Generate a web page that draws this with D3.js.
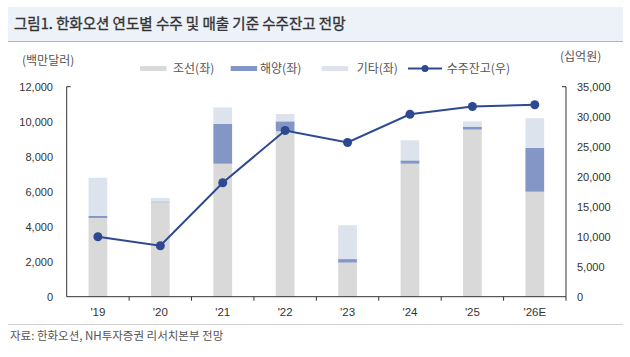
<!DOCTYPE html>
<html><head><meta charset="utf-8">
<script src="https://cdn.jsdelivr.net/npm/d3@7"></script>
<style>
html,body{margin:0;padding:0;background:#fff;}
svg{display:block;}
text{font-family:"Liberation Sans",Arial,"Noto Sans CJK KR",sans-serif;}
.kr{font-family:"Noto Sans CJK KR","Liberation Sans",sans-serif;}
</style></head>
<body><svg id="c" width="630" height="357"></svg>
<script>
const categories = ["'19","'20","'21","'22","'23","'24","'25","'26E"];
const shipbuilding = [4500,5400,7600,9450,1950,7600,9550,6000];
const offshore = [120,40,2270,570,200,190,170,2500];
const others = [2180,200,940,420,1930,1150,300,1700];
const backlog = [10000,8500,19000,27700,25700,30400,31700,32000];
const leftTicks = [0,2000,4000,6000,8000,10000,12000];
const rightTicks = [0,5000,10000,15000,20000,25000,30000,35000];
const seriesNames = ["조선(좌)","해양(좌)","기타(좌)","수주잔고(우)"];
const colors = ["#d9d9d9","#8496c5","#dde3ec","#2d4a90"];

const svg = d3.select("#c");
const L = 66.7, R = 566, T = 86.7, B = 296.7;

// title band
svg.append("rect").attr("x",8).attr("y",7).attr("width",615).attr("height",34).attr("fill","#edf1f8");
svg.append("line").attr("x1",8).attr("x2",623).attr("y1",41.5).attr("y2",41.5).attr("stroke","#b5b5b5").attr("stroke-width",1);
svg.append("text").attr("class","kr").attr("x",14).attr("y",28.5).attr("font-size",14.5).attr("font-weight",400)
  .attr("fill","#333").attr("stroke","#333").attr("stroke-width",0.35).text("그림1. 한화오션 연도별 수주 및 매출 기준 수주잔고 전망");

// unit labels
svg.append("text").attr("class","kr").attr("x",22).attr("y",64.5).attr("font-size",12).attr("fill","#555").text("(백만달러)");
svg.append("text").attr("class","kr").attr("x",560).attr("y",61).attr("font-size",12).attr("fill","#555").text("(십억원)");

const x = d3.scaleBand().domain(categories).range([L,R]).paddingInner(0.7).paddingOuter(0.35);
const yL = d3.scaleLinear().domain([0,12000]).range([B,T]);
const yR = d3.scaleLinear().domain([0,35000]).range([B,T]);

const data = categories.map((c,i)=>({cat:c, s:shipbuilding[i], o:offshore[i], e:others[i]}));
const stack = d3.stack().keys(["s","o","e"])(data);
const g = svg.append("g");
stack.forEach((layer,li)=>{
  g.selectAll(null).data(layer).enter().append("rect")
    .attr("x",d=>x(d.data.cat)).attr("width",x.bandwidth())
    .attr("y",d=>yL(d[1])).attr("height",d=>yL(d[0])-yL(d[1]))
    .attr("fill",colors[li]);
});

// axes
const ax = svg.append("g").attr("stroke","#333").attr("stroke-width",1).attr("fill","none");
ax.append("line").attr("x1",L).attr("x2",L).attr("y1",T).attr("y2",B);
ax.append("line").attr("x1",L).attr("x2",L+4).attr("y1",T).attr("y2",T);
ax.append("line").attr("x1",R).attr("x2",R).attr("y1",T).attr("y2",B);
ax.append("line").attr("x1",R-4).attr("x2",R).attr("y1",T).attr("y2",T);
ax.append("line").attr("x1",L).attr("x2",R).attr("y1",B).attr("y2",B);
const step = x.step();
categories.forEach(c=>{
  const bx = x(c) - (step - x.bandwidth())/2 + step;
  ax.append("line").attr("x1",bx).attr("x2",bx).attr("y1",B).attr("y2",B+4);
});

svg.selectAll(null).data(leftTicks).enter().append("text")
  .attr("x",53).attr("y",d=>yL(d)+4).attr("text-anchor","end").attr("font-size",11).attr("fill","#333")
  .text(d=>d3.format(",")(d));
svg.selectAll(null).data(rightTicks).enter().append("text")
  .attr("x",577).attr("y",d=>yR(d)+4).attr("text-anchor","start").attr("font-size",11).attr("fill","#333")
  .text(d=>d3.format(",")(d));
svg.selectAll(null).data(categories).enter().append("text")
  .attr("x",d=>x(d)+x.bandwidth()/2).attr("y",316).attr("text-anchor","middle").attr("font-size",11.5).attr("fill","#333")
  .text(d=>d);

// line
const line = d3.line().x((d,i)=>x(categories[i])+x.bandwidth()/2).y(d=>yR(d));
svg.append("path").datum(backlog).attr("d",line).attr("fill","none").attr("stroke",colors[3]).attr("stroke-width",2);
svg.selectAll(null).data(backlog).enter().append("circle")
  .attr("cx",(d,i)=>x(categories[i])+x.bandwidth()/2).attr("cy",d=>yR(d)).attr("r",4.5).attr("fill",colors[3]);

// legend
const lg = svg.append("g");
const legendX = [140,230.7,321.7,408];
const labelX = [173,260,356.7,446.7];
const ly = 68.5;
[0,1,2].forEach(i=>{
  lg.append("rect").attr("x",legendX[i]).attr("y",ly-2.5).attr("width",26.5).attr("height",5).attr("fill",colors[i]);
});
lg.append("line").attr("x1",legendX[3]).attr("x2",legendX[3]+34).attr("y1",ly).attr("y2",ly).attr("stroke",colors[3]).attr("stroke-width",2);
lg.append("circle").attr("cx",legendX[3]+17).attr("cy",ly).attr("r",3.5).attr("fill",colors[3]);
seriesNames.forEach((n,i)=>{
  lg.append("text").attr("class","kr").attr("x",labelX[i]).attr("y",ly+4.5).attr("font-size",12).attr("fill","#555").text(n);
});

// footer
svg.append("line").attr("x1",8).attr("x2",623).attr("y1",324.5).attr("y2",324.5).attr("stroke","#d0d0d0");
svg.append("text").attr("class","kr").attr("x",10).attr("y",339.5).attr("font-size",11.5).attr("fill","#555")
  .text("자료: 한화오션, NH투자증권 리서치본부 전망");
</script></body></html>
